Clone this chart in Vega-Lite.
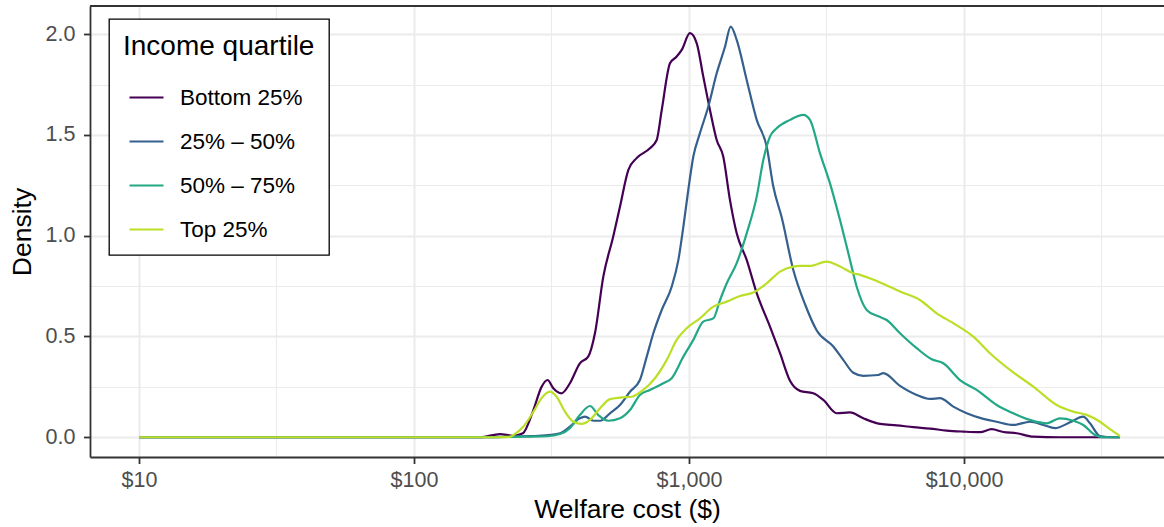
{
  "$schema": "https://vega.github.io/schema/vega-lite/v6.json",
  "autosize": {"type": "none"},
  "width": 1074,
  "height": 451,
  "padding": {"left": 90, "top": 6, "right": 0, "bottom": 70},
  "background": "white",
  "config": {
    "view": {"stroke": null},
    "font": "Liberation Sans",
    "axis": {
      "labelFont": "Liberation Sans",
      "titleFont": "Liberation Sans",
      "labelColor": "#4D4D4D",
      "labelFontSize": 21.5,
      "titleFontSize": 26.5,
      "titleFontWeight": "normal",
      "titleColor": "#000000",
      "tickColor": "#333333",
      "tickWidth": 1.8,
      "tickSize": 6.5,
      "domainColor": "#333333",
      "domainWidth": 1.8,
      "gridColor": "#EBEBEB"
    },
    "legend": {
      "labelFont": "Liberation Sans",
      "titleFont": "Liberation Sans",
      "fillColor": "#FFFFFF",
      "strokeColor": "#000000",
      "strokeWidth": 1.3,
      "padding": 14
    }
  },
  "datasets": {
    "dens": [
      {"q": "Bottom 25%", "cost": 10, "density": 0},
      {"q": "Bottom 25%", "cost": 50, "density": 0},
      {"q": "Bottom 25%", "cost": 150, "density": 0},
      {"q": "Bottom 25%", "cost": 174, "density": 0},
      {"q": "Bottom 25%", "cost": 205.5, "density": 0.016},
      {"q": "Bottom 25%", "cost": 229, "density": 0.007},
      {"q": "Bottom 25%", "cost": 249, "density": 0.02},
      {"q": "Bottom 25%", "cost": 271, "density": 0.13},
      {"q": "Bottom 25%", "cost": 291, "density": 0.25},
      {"q": "Bottom 25%", "cost": 306, "density": 0.284},
      {"q": "Bottom 25%", "cost": 321, "density": 0.243},
      {"q": "Bottom 25%", "cost": 344, "density": 0.218},
      {"q": "Bottom 25%", "cost": 369, "density": 0.268},
      {"q": "Bottom 25%", "cost": 401, "density": 0.367},
      {"q": "Bottom 25%", "cost": 430, "density": 0.4},
      {"q": "Bottom 25%", "cost": 455, "density": 0.516},
      {"q": "Bottom 25%", "cost": 488, "density": 0.797},
      {"q": "Bottom 25%", "cost": 530, "density": 0.995},
      {"q": "Bottom 25%", "cost": 561, "density": 1.144},
      {"q": "Bottom 25%", "cost": 602, "density": 1.327},
      {"q": "Bottom 25%", "cost": 645, "density": 1.385},
      {"q": "Bottom 25%", "cost": 721, "density": 1.434},
      {"q": "Bottom 25%", "cost": 763, "density": 1.475},
      {"q": "Bottom 25%", "cost": 796, "density": 1.624},
      {"q": "Bottom 25%", "cost": 853, "density": 1.856},
      {"q": "Bottom 25%", "cost": 902, "density": 1.889},
      {"q": "Bottom 25%", "cost": 941, "density": 1.922},
      {"q": "Bottom 25%", "cost": 1008, "density": 2.005},
      {"q": "Bottom 25%", "cost": 1067, "density": 1.955},
      {"q": "Bottom 25%", "cost": 1127, "density": 1.79},
      {"q": "Bottom 25%", "cost": 1192, "density": 1.624},
      {"q": "Bottom 25%", "cost": 1261, "density": 1.475},
      {"q": "Bottom 25%", "cost": 1332, "density": 1.393},
      {"q": "Bottom 25%", "cost": 1409, "density": 1.178},
      {"q": "Bottom 25%", "cost": 1491, "density": 1.012},
      {"q": "Bottom 25%", "cost": 1621, "density": 0.88},
      {"q": "Bottom 25%", "cost": 1763, "density": 0.715},
      {"q": "Bottom 25%", "cost": 1970, "density": 0.549},
      {"q": "Bottom 25%", "cost": 2143, "density": 0.417},
      {"q": "Bottom 25%", "cost": 2330, "density": 0.28},
      {"q": "Bottom 25%", "cost": 2533, "density": 0.23},
      {"q": "Bottom 25%", "cost": 2831, "density": 0.218},
      {"q": "Bottom 25%", "cost": 3079, "density": 0.185},
      {"q": "Bottom 25%", "cost": 3444, "density": 0.119},
      {"q": "Bottom 25%", "cost": 3850, "density": 0.123},
      {"q": "Bottom 25%", "cost": 4303, "density": 0.094},
      {"q": "Bottom 25%", "cost": 4950, "density": 0.066},
      {"q": "Bottom 25%", "cost": 5692, "density": 0.059},
      {"q": "Bottom 25%", "cost": 6541, "density": 0.05},
      {"q": "Bottom 25%", "cost": 7521, "density": 0.043},
      {"q": "Bottom 25%", "cost": 8650, "density": 0.033},
      {"q": "Bottom 25%", "cost": 9943, "density": 0.028},
      {"q": "Bottom 25%", "cost": 11435, "density": 0.025},
      {"q": "Bottom 25%", "cost": 12610, "density": 0.04},
      {"q": "Bottom 25%", "cost": 13900, "density": 0.026},
      {"q": "Bottom 25%", "cost": 15540, "density": 0.02},
      {"q": "Bottom 25%", "cost": 17870, "density": 0.003},
      {"q": "Bottom 25%", "cost": 22340, "density": 0},
      {"q": "Bottom 25%", "cost": 28710, "density": 0},
      {"q": "Bottom 25%", "cost": 36920, "density": 0},

      {"q": "25% – 50%", "cost": 10, "density": 0},
      {"q": "25% – 50%", "cost": 50, "density": 0},
      {"q": "25% – 50%", "cost": 150, "density": 0},
      {"q": "25% – 50%", "cost": 200, "density": 0.001},
      {"q": "25% – 50%", "cost": 250, "density": 0.005},
      {"q": "25% – 50%", "cost": 300, "density": 0.01},
      {"q": "25% – 50%", "cost": 339.5, "density": 0.02},
      {"q": "25% – 50%", "cost": 369, "density": 0.053},
      {"q": "25% – 50%", "cost": 401, "density": 0.094},
      {"q": "25% – 50%", "cost": 419, "density": 0.102},
      {"q": "25% – 50%", "cost": 449, "density": 0.082},
      {"q": "25% – 50%", "cost": 475, "density": 0.082},
      {"q": "25% – 50%", "cost": 516, "density": 0.119},
      {"q": "25% – 50%", "cost": 561, "density": 0.16},
      {"q": "25% – 50%", "cost": 610, "density": 0.226},
      {"q": "25% – 50%", "cost": 663, "density": 0.284},
      {"q": "25% – 50%", "cost": 702, "density": 0.4},
      {"q": "25% – 50%", "cost": 742, "density": 0.516},
      {"q": "25% – 50%", "cost": 796, "density": 0.632},
      {"q": "25% – 50%", "cost": 865, "density": 0.747},
      {"q": "25% – 50%", "cost": 915, "density": 0.88},
      {"q": "25% – 50%", "cost": 954, "density": 1.045},
      {"q": "25% – 50%", "cost": 994, "density": 1.227},
      {"q": "25% – 50%", "cost": 1037, "density": 1.393},
      {"q": "25% – 50%", "cost": 1096, "density": 1.509},
      {"q": "25% – 50%", "cost": 1175, "density": 1.64},
      {"q": "25% – 50%", "cost": 1261, "density": 1.806},
      {"q": "25% – 50%", "cost": 1352, "density": 1.938},
      {"q": "25% – 50%", "cost": 1418, "density": 2.038},
      {"q": "25% – 50%", "cost": 1491, "density": 1.972},
      {"q": "25% – 50%", "cost": 1621, "density": 1.773},
      {"q": "25% – 50%", "cost": 1763, "density": 1.575},
      {"q": "25% – 50%", "cost": 1917, "density": 1.442},
      {"q": "25% – 50%", "cost": 2026, "density": 1.244},
      {"q": "25% – 50%", "cost": 2174, "density": 1.09},
      {"q": "25% – 50%", "cost": 2395, "density": 0.83},
      {"q": "25% – 50%", "cost": 2642, "density": 0.66},
      {"q": "25% – 50%", "cost": 2914, "density": 0.53},
      {"q": "25% – 50%", "cost": 3348, "density": 0.45},
      {"q": "25% – 50%", "cost": 3639, "density": 0.384},
      {"q": "25% – 50%", "cost": 3958, "density": 0.32},
      {"q": "25% – 50%", "cost": 4303, "density": 0.305},
      {"q": "25% – 50%", "cost": 4880, "density": 0.309},
      {"q": "25% – 50%", "cost": 5088, "density": 0.318},
      {"q": "25% – 50%", "cost": 5852, "density": 0.255},
      {"q": "25% – 50%", "cost": 6730, "density": 0.21},
      {"q": "25% – 50%", "cost": 7521, "density": 0.19},
      {"q": "25% – 50%", "cost": 8178, "density": 0.194},
      {"q": "25% – 50%", "cost": 9145, "density": 0.152},
      {"q": "25% – 50%", "cost": 10230, "density": 0.119},
      {"q": "25% – 50%", "cost": 11435, "density": 0.096},
      {"q": "25% – 50%", "cost": 13150, "density": 0.077},
      {"q": "25% – 50%", "cost": 15110, "density": 0.061},
      {"q": "25% – 50%", "cost": 17380, "density": 0.077},
      {"q": "25% – 50%", "cost": 19430, "density": 0.061},
      {"q": "25% – 50%", "cost": 21430, "density": 0.045},
      {"q": "25% – 50%", "cost": 24290, "density": 0.074},
      {"q": "25% – 50%", "cost": 27150, "density": 0.102},
      {"q": "25% – 50%", "cost": 28720, "density": 0.069},
      {"q": "25% – 50%", "cost": 31230, "density": 0.006},
      {"q": "25% – 50%", "cost": 34910, "density": 0},
      {"q": "25% – 50%", "cost": 36920, "density": 0},

      {"q": "50% – 75%", "cost": 10, "density": 0},
      {"q": "50% – 75%", "cost": 50, "density": 0},
      {"q": "50% – 75%", "cost": 150, "density": 0},
      {"q": "50% – 75%", "cost": 250, "density": 0.003},
      {"q": "50% – 75%", "cost": 304, "density": 0.005},
      {"q": "50% – 75%", "cost": 339.5, "density": 0.016},
      {"q": "50% – 75%", "cost": 369, "density": 0.045},
      {"q": "50% – 75%", "cost": 401, "density": 0.11},
      {"q": "50% – 75%", "cost": 436.5, "density": 0.155},
      {"q": "50% – 75%", "cost": 468, "density": 0.11},
      {"q": "50% – 75%", "cost": 509, "density": 0.082},
      {"q": "50% – 75%", "cost": 561, "density": 0.094},
      {"q": "50% – 75%", "cost": 610, "density": 0.135},
      {"q": "50% – 75%", "cost": 663, "density": 0.21},
      {"q": "50% – 75%", "cost": 721, "density": 0.235},
      {"q": "50% – 75%", "cost": 806, "density": 0.268},
      {"q": "50% – 75%", "cost": 865, "density": 0.293},
      {"q": "50% – 75%", "cost": 954, "density": 0.4},
      {"q": "50% – 75%", "cost": 1037, "density": 0.483},
      {"q": "50% – 75%", "cost": 1127, "density": 0.574},
      {"q": "50% – 75%", "cost": 1226, "density": 0.59},
      {"q": "50% – 75%", "cost": 1297, "density": 0.681},
      {"q": "50% – 75%", "cost": 1372, "density": 0.764},
      {"q": "50% – 75%", "cost": 1491, "density": 0.864},
      {"q": "50% – 75%", "cost": 1621, "density": 1.012},
      {"q": "50% – 75%", "cost": 1763, "density": 1.194},
      {"q": "50% – 75%", "cost": 1863, "density": 1.376},
      {"q": "50% – 75%", "cost": 1970, "density": 1.492},
      {"q": "50% – 75%", "cost": 2084, "density": 1.533},
      {"q": "50% – 75%", "cost": 2330, "density": 1.575},
      {"q": "50% – 75%", "cost": 2604, "density": 1.6},
      {"q": "50% – 75%", "cost": 2754, "density": 1.575},
      {"q": "50% – 75%", "cost": 2995, "density": 1.409},
      {"q": "50% – 75%", "cost": 3256, "density": 1.26},
      {"q": "50% – 75%", "cost": 3541, "density": 1.078},
      {"q": "50% – 75%", "cost": 3850, "density": 0.88},
      {"q": "50% – 75%", "cost": 4073, "density": 0.747},
      {"q": "50% – 75%", "cost": 4428, "density": 0.632},
      {"q": "50% – 75%", "cost": 4880, "density": 0.6},
      {"q": "50% – 75%", "cost": 5235, "density": 0.582},
      {"q": "50% – 75%", "cost": 5852, "density": 0.516},
      {"q": "50% – 75%", "cost": 6730, "density": 0.442},
      {"q": "50% – 75%", "cost": 7630, "density": 0.387},
      {"q": "50% – 75%", "cost": 8408, "density": 0.367},
      {"q": "50% – 75%", "cost": 9671, "density": 0.284},
      {"q": "50% – 75%", "cost": 11120, "density": 0.235},
      {"q": "50% – 75%", "cost": 13150, "density": 0.16},
      {"q": "50% – 75%", "cost": 15110, "density": 0.119},
      {"q": "50% – 75%", "cost": 17380, "density": 0.086},
      {"q": "50% – 75%", "cost": 19980, "density": 0.069},
      {"q": "50% – 75%", "cost": 22340, "density": 0.094},
      {"q": "50% – 75%", "cost": 24970, "density": 0.082},
      {"q": "50% – 75%", "cost": 27150, "density": 0.061},
      {"q": "50% – 75%", "cost": 29950, "density": 0.011},
      {"q": "50% – 75%", "cost": 32110, "density": 0},
      {"q": "50% – 75%", "cost": 36920, "density": 0},

      {"q": "Top 25%", "cost": 10, "density": 0},
      {"q": "Top 25%", "cost": 50, "density": 0},
      {"q": "Top 25%", "cost": 150, "density": 0},
      {"q": "Top 25%", "cost": 200, "density": 0},
      {"q": "Top 25%", "cost": 223, "density": 0.002},
      {"q": "Top 25%", "cost": 230, "density": 0.011},
      {"q": "Top 25%", "cost": 250, "density": 0.053},
      {"q": "Top 25%", "cost": 272, "density": 0.127},
      {"q": "Top 25%", "cost": 291, "density": 0.194},
      {"q": "Top 25%", "cost": 312, "density": 0.226},
      {"q": "Top 25%", "cost": 330, "density": 0.201},
      {"q": "Top 25%", "cost": 354, "density": 0.127},
      {"q": "Top 25%", "cost": 380, "density": 0.077},
      {"q": "Top 25%", "cost": 407, "density": 0.066},
      {"q": "Top 25%", "cost": 436.5, "density": 0.086},
      {"q": "Top 25%", "cost": 475, "density": 0.144},
      {"q": "Top 25%", "cost": 516, "density": 0.189},
      {"q": "Top 25%", "cost": 561, "density": 0.197},
      {"q": "Top 25%", "cost": 619, "density": 0.201},
      {"q": "Top 25%", "cost": 682, "density": 0.235},
      {"q": "Top 25%", "cost": 752, "density": 0.293},
      {"q": "Top 25%", "cost": 830, "density": 0.384},
      {"q": "Top 25%", "cost": 902, "density": 0.483},
      {"q": "Top 25%", "cost": 981, "density": 0.541},
      {"q": "Top 25%", "cost": 1096, "density": 0.59},
      {"q": "Top 25%", "cost": 1226, "density": 0.648},
      {"q": "Top 25%", "cost": 1372, "density": 0.673},
      {"q": "Top 25%", "cost": 1533, "density": 0.701},
      {"q": "Top 25%", "cost": 1713, "density": 0.718},
      {"q": "Top 25%", "cost": 1917, "density": 0.764},
      {"q": "Top 25%", "cost": 2143, "density": 0.822},
      {"q": "Top 25%", "cost": 2395, "density": 0.847},
      {"q": "Top 25%", "cost": 2533, "density": 0.85},
      {"q": "Top 25%", "cost": 2754, "density": 0.85},
      {"q": "Top 25%", "cost": 3168, "density": 0.872},
      {"q": "Top 25%", "cost": 3541, "density": 0.847},
      {"q": "Top 25%", "cost": 3958, "density": 0.814},
      {"q": "Top 25%", "cost": 4185, "density": 0.806},
      {"q": "Top 25%", "cost": 4880, "density": 0.772},
      {"q": "Top 25%", "cost": 5852, "density": 0.723},
      {"q": "Top 25%", "cost": 6918, "density": 0.681},
      {"q": "Top 25%", "cost": 7958, "density": 0.615},
      {"q": "Top 25%", "cost": 9145, "density": 0.566},
      {"q": "Top 25%", "cost": 10810, "density": 0.499},
      {"q": "Top 25%", "cost": 12430, "density": 0.417},
      {"q": "Top 25%", "cost": 14700, "density": 0.334},
      {"q": "Top 25%", "cost": 17870, "density": 0.251},
      {"q": "Top 25%", "cost": 21740, "density": 0.16},
      {"q": "Top 25%", "cost": 24970, "density": 0.127},
      {"q": "Top 25%", "cost": 27940, "density": 0.111},
      {"q": "Top 25%", "cost": 31230, "density": 0.077},
      {"q": "Top 25%", "cost": 33960, "density": 0.04},
      {"q": "Top 25%", "cost": 36920, "density": 0.006}
    ]
  },
  "layer": [
    {
      "data": {"name": "dens"},
      "mark": {"type": "line", "strokeWidth": 2.2, "interpolate": "monotone"},
      "encoding": {
        "x": {
          "field": "cost",
          "type": "quantitative",
          "title": "Welfare cost ($)",
          "scale": {"type": "log", "domain": [6.635, 53370], "nice": false, "zero": false},
          "axis": {
            "values": [10, 31.6228, 100, 316.228, 1000, 3162.28, 10000, 31622.8],
            "labelExpr": "indexof([10,100,1000,10000], datum.value) >= 0 ? '$' + format(datum.value, ',') : ''",
            "gridWidth": {"condition": {"test": "indexof([10,100,1000,10000], datum.value) >= 0", "value": 2}, "value": 1.1},
            "tickOpacity": {"condition": {"test": "indexof([10,100,1000,10000], datum.value) >= 0", "value": 1}, "value": 0},
            "labelPadding": 6,
            "titlePadding": 5,
            "labelFlush": false,
            "labelOverlap": false
          }
        },
        "y": {
          "field": "density",
          "type": "quantitative",
          "title": "Density",
          "scale": {"domain": [-0.098, 2.14], "nice": false, "zero": false},
          "axis": {
            "values": [0, 0.25, 0.5, 0.75, 1, 1.25, 1.5, 1.75, 2],
            "labelExpr": "(datum.value * 4) % 2 == 0 ? format(datum.value, '.1f') : ''",
            "gridWidth": {"condition": {"test": "(datum.value * 4) % 2 == 0", "value": 2}, "value": 1.1},
            "tickOpacity": {"condition": {"test": "(datum.value * 4) % 2 == 0", "value": 1}, "value": 0},
            "labelPadding": 8.5,
            "titlePadding": 9,
            "labelFlush": false,
            "labelOverlap": false
          }
        },
        "color": {
          "field": "q",
          "type": "nominal",
          "sort": null,
          "scale": {
            "domain": ["Bottom 25%", "25% – 50%", "50% – 75%", "Top 25%"],
            "range": ["#440154", "#35608D", "#22A884", "#BBDF27"]
          },
          "legend": {
            "title": "Income quartile",
            "orient": "none",
            "legendX": 19,
            "legendY": 13,
            "direction": "vertical",
            "titleFontSize": 28,
            "titleFontWeight": "normal",
            "titleColor": "#000000",
            "titleLimit": 600,
            "titlePadding": 18,
            "labelFontSize": 22.5,
            "labelColor": "#000000",
            "labelLimit": 600,
            "symbolType": "stroke",
            "symbolSize": 1156,
            "symbolStrokeWidth": 2.2,
            "symbolOffset": 5,
            "labelOffset": 15,
            "rowPadding": 14
          }
        }
      }
    },
    {
      "data": {"values": [{}]},
      "mark": {"type": "rule", "color": "#333333", "strokeWidth": 1.8},
      "encoding": {"y": {"datum": 2.14}}
    }
  ]
}
